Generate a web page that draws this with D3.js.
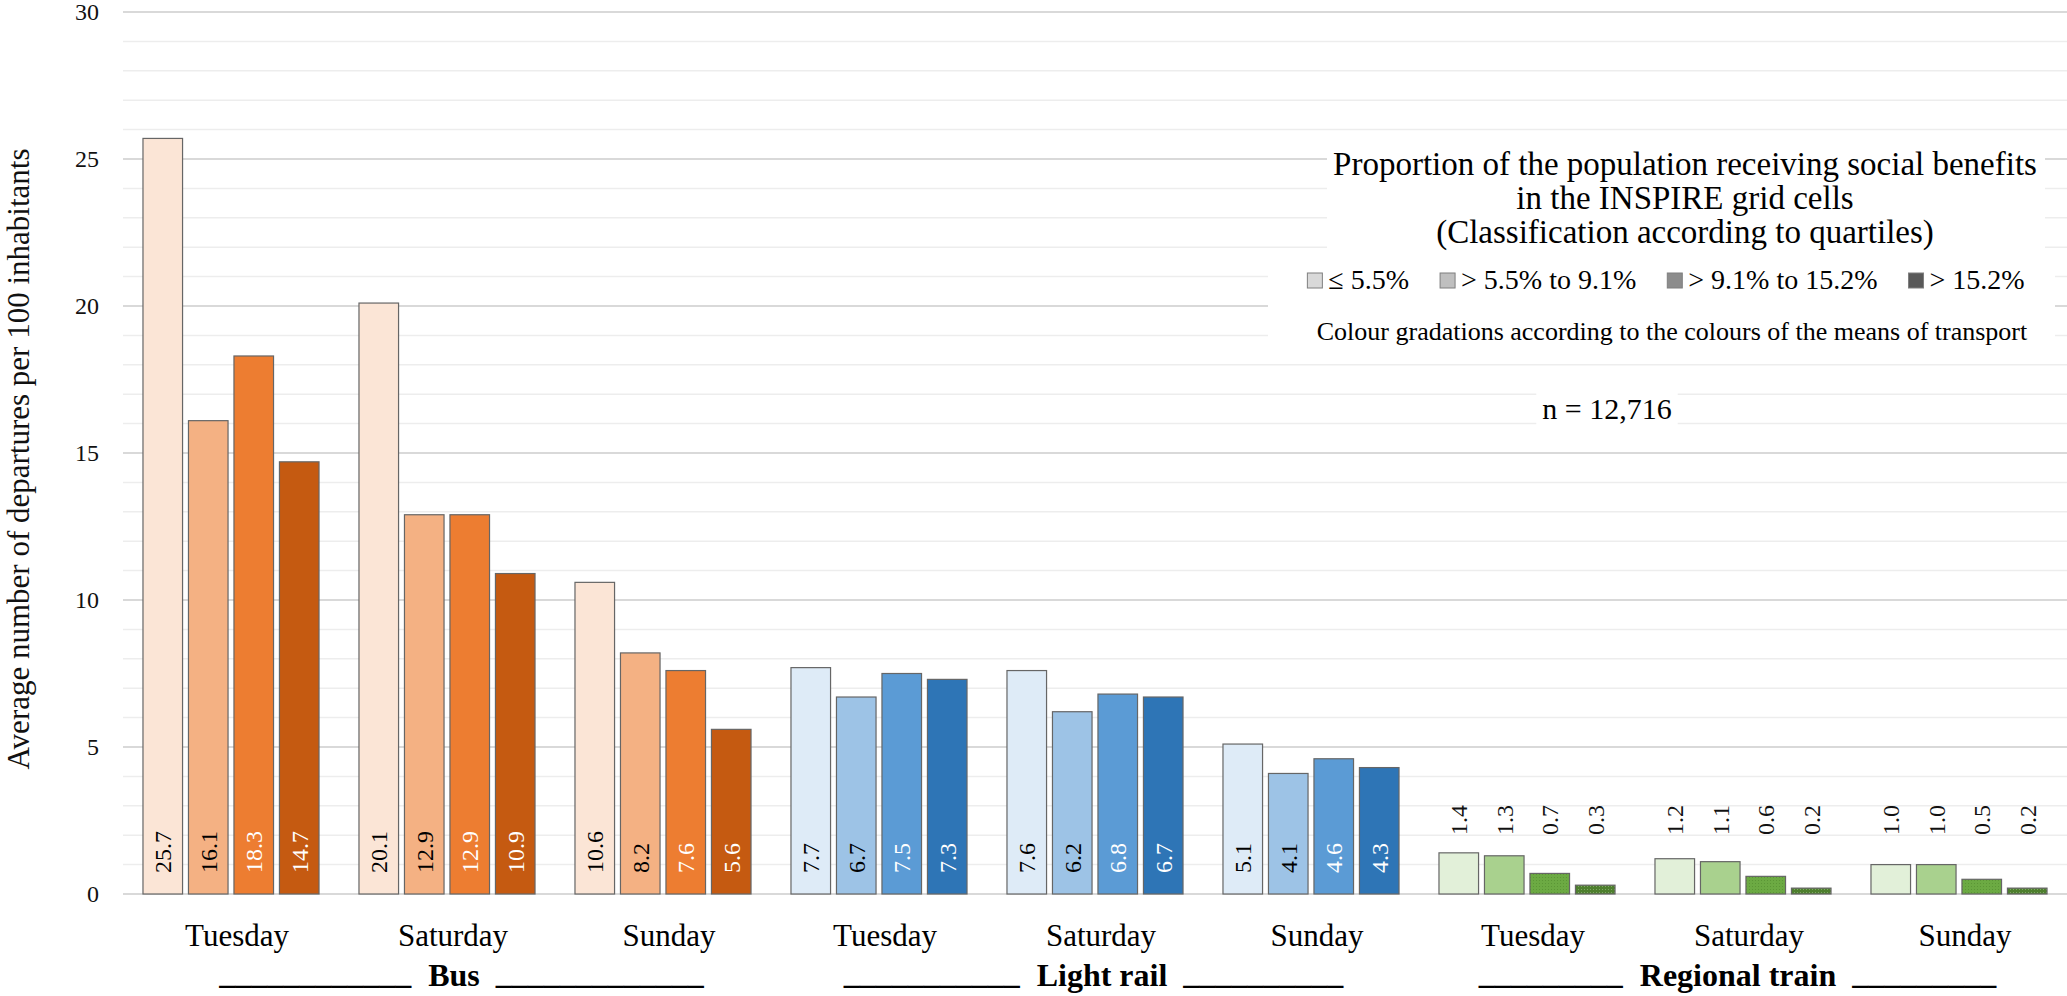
<!DOCTYPE html>
<html>
<head>
<meta charset="utf-8">
<script src="https://cdn.jsdelivr.net/npm/d3@7"></script>
<style>
  body { margin: 0; background: #fff; }
  svg { display: block; font-family: "Liberation Serif", "Times New Roman", serif; }
</style>
</head>
<body>
<div id="wrapper"></div>
<script>
const modes = ["Bus", "Light rail", "Regional train"];
const days = ["Tuesday", "Saturday", "Sunday"];
const classes = ["\u2264 5.5%", "> 5.5% to 9.1%", "> 9.1% to 15.2%", "> 15.2%"];

// rows = days, columns = the four quartile classes
const busValues = [[25.7, 16.1, 18.3, 14.7], [20.1, 12.9, 12.9, 10.9], [10.6, 8.2, 7.6, 5.6]];
const lightRailValues = [[7.7, 6.7, 7.5, 7.3], [7.6, 6.2, 6.8, 6.7], [5.1, 4.1, 4.6, 4.3]];
const regionalValues = [[1.4, 1.3, 0.7, 0.3], [1.2, 1.1, 0.6, 0.2], [1.0, 1.0, 0.5, 0.2]];

const legendTitle = [
    "Proportion of the population receiving social benefits",
    "in the INSPIRE grid cells",
    "(Classification according to quartiles)"
];
const legendNote = "Colour gradations according to the colours of the means of transport";
const sampleNote = "n = 12,716";
const yTitle = "Average number of departures per 100 inhabitants";
const underscoreCounts = [[12, 13], [11, 10], [9, 9]];

const modeValues = [busValues, lightRailValues, regionalValues];

const palettes = [
    ["#FBE5D6", "#F4B183", "#ED7D31", "#C55A11"],
    ["#DEEBF7", "#9DC3E6", "#5B9BD5", "#2E75B6"],
    ["#E2F0D9", "#A9D18E", "url(#green3)", "url(#green4)"]
];
const labelColors = ["#000", "#000", "#fff", "#fff"];
const legendGreys = ["#D9D9D9", "#BFBFBF", "#8C8C8C", "#595959"];

const width = 2067, height = 996;
const plot = { left: 123, right: 2067, top: 12, bottom: 894 };

const svg = d3.select("#wrapper").append("svg")
    .attr("width", width)
    .attr("height", height);

// dotted fills for the two darker green bars
const defs = svg.append("defs");
function dotPattern(id, base, dot) {
    const p = defs.append("pattern").attr("id", id)
        .attr("width", 3).attr("height", 3).attr("patternUnits", "userSpaceOnUse");
    p.append("rect").attr("width", 3).attr("height", 3).attr("fill", base);
    p.append("rect").attr("x", 1).attr("y", 1).attr("width", 1).attr("height", 1).attr("fill", dot);
}
dotPattern("green3", "#6CAA43", "#5B9636");
dotPattern("green4", "#4E7F2E", "#7FA865");

const rows = [];
modes.forEach((m, mi) => days.forEach((d, di) => {
    rows.push({ mode: m, mi: mi, day: d, key: m + "|" + d, values: modeValues[mi][di] });
}));

const x0 = d3.scaleBand()
    .domain(rows.map(r => r.key))
    .range([plot.left, plot.right])
    .paddingInner(0.185)
    .paddingOuter(0.0925);

const x1 = d3.scaleBand()
    .domain(d3.range(classes.length))
    .range([0, x0.bandwidth()])
    .paddingInner(0.13);

const y = d3.scaleLinear().domain([0, 30]).range([plot.bottom, plot.top]);

// gridlines
const grid = svg.append("g");
grid.selectAll("line.minor")
    .data(d3.range(1, 30).filter(v => v % 5 !== 0))
    .enter().append("line")
    .attr("class", "minor")
    .attr("x1", plot.left).attr("x2", plot.right)
    .attr("y1", d => y(d)).attr("y2", d => y(d))
    .attr("stroke", "#EDEDED").attr("stroke-width", 1.5);
grid.selectAll("line.major")
    .data(y.ticks(6))
    .enter().append("line")
    .attr("class", "major")
    .attr("x1", plot.left).attr("x2", plot.right)
    .attr("y1", d => y(d)).attr("y2", d => y(d))
    .attr("stroke", "#D9D9D9").attr("stroke-width", 2);

// y axis
const yAxis = svg.append("g")
    .attr("transform", `translate(${plot.left},0)`)
    .call(d3.axisLeft(y).ticks(6).tickSize(0).tickPadding(24));
yAxis.select(".domain").remove();
yAxis.selectAll("text")
    .style("font-family", "Liberation Serif, serif")
    .style("font-size", "24px")
    .attr("fill", "#111");

svg.append("text")
    .attr("transform", "translate(29,459) rotate(-90)")
    .attr("text-anchor", "middle")
    .style("font-size", "31px")
    .attr("fill", "#111")
    .text(yTitle);

// bars
const groups = svg.selectAll("g.group")
    .data(rows)
    .enter().append("g")
    .attr("class", "group")
    .attr("transform", d => `translate(${x0(d.key)},0)`);

groups.selectAll("rect")
    .data(d => d.values.map((v, i) => ({ v: v, i: i, mi: d.mi })))
    .enter().append("rect")
    .attr("x", d => x1(d.i))
    .attr("y", d => y(d.v))
    .attr("width", x1.bandwidth())
    .attr("height", d => y(0) - y(d.v))
    .attr("fill", d => palettes[d.mi][d.i])
    .attr("stroke", "#666")
    .attr("stroke-width", 1.2);

groups.selectAll("text")
    .data(d => d.values.map((v, i) => ({ v: v, i: i, mi: d.mi })))
    .enter().append("text")
    .attr("transform", d => {
        const cx = x1(d.i) + x1.bandwidth() / 2;
        const ly = d.v < 2 ? y(0) - 59 : y(0) - 21;
        return `translate(${cx},${ly}) rotate(-90)`;
    })
    .attr("dy", "0.35em")
    .style("font-size", "24px")
    .attr("fill", d => d.v < 2 ? "#111" : labelColors[d.i])
    .text(d => d3.format(".1f")(d.v));

// day labels
const xAxis = svg.append("g")
    .attr("transform", `translate(0,${y(0)})`)
    .call(d3.axisBottom(x0).tickSize(0).tickPadding(30).tickFormat(k => k.split("|")[1]));
xAxis.select(".domain").remove();
xAxis.selectAll("text")
    .attr("dx", 6)
    .style("font-family", "Liberation Serif, serif")
    .style("font-size", "31px")
    .attr("fill", "#000");

// mode labels with underscores
const modeShift = [7, 7, -5];
modes.forEach((m, mi) => {
    const keys = days.map(d => m + "|" + d);
    const cx = d3.mean(keys, k => x0(k) + x0.bandwidth() / 2) + modeShift[mi];
    const label = svg.append("text")
        .attr("x", cx).attr("y", 986)
        .attr("text-anchor", "middle")
        .style("font-size", "32px")
        .style("font-weight", "bold")
        .attr("fill", "#000")
        .text(m);
    const w = label.node().getComputedTextLength();
    svg.append("text")
        .attr("x", cx - w / 2 - 17).attr("y", 984)
        .attr("text-anchor", "end")
        .style("font-size", "32px")
        .style("font-weight", "bold")
        .text("_".repeat(underscoreCounts[mi][0]));
    svg.append("text")
        .attr("x", cx + w / 2 + 16).attr("y", 984)
        .attr("text-anchor", "start")
        .style("font-size", "32px")
        .style("font-weight", "bold")
        .text("_".repeat(underscoreCounts[mi][1]));
});

// legend (white text boxes over the grid)
const legendX = 1666;
svg.append("rect").attr("x", 1327).attr("y", 136).attr("width", 718).attr("height", 117).attr("fill", "#fff");
svg.append("rect").attr("x", 1268).attr("y", 253).attr("width", 787).attr("height", 97).attr("fill", "#fff");

svg.append("g").selectAll("text")
    .data(legendTitle)
    .enter().append("text")
    .attr("x", 1685)
    .attr("y", (d, i) => 175 + i * 34)
    .attr("text-anchor", "middle")
    .style("font-size", "33px")
    .attr("fill", "#000")
    .text(d => d);

const items = svg.append("g");
const itemTexts = classes.map(c => items.append("text")
    .attr("y", 289)
    .style("font-size", "28px")
    .attr("fill", "#000")
    .text(c));
const itemWidths = itemTexts.map(t => t.node().getComputedTextLength());
const sq = 15, sqGap = 6, itemGap = 31;
const rowWidth = d3.sum(itemWidths) + classes.length * (sq + sqGap) + (classes.length - 1) * itemGap;
let cursor = legendX - rowWidth / 2;
classes.forEach((c, i) => {
    items.append("rect")
        .attr("x", cursor).attr("y", 289 - sq - 1)
        .attr("width", sq).attr("height", sq)
        .attr("fill", legendGreys[i])
        .attr("stroke", "#7F7F7F").attr("stroke-width", 1);
    itemTexts[i].attr("x", cursor + sq + sqGap);
    cursor += sq + sqGap + itemWidths[i] + itemGap;
});

svg.append("text")
    .attr("x", 1672).attr("y", 340)
    .attr("text-anchor", "middle")
    .style("font-size", "26px")
    .attr("fill", "#000")
    .text(legendNote);

const nText = svg.append("text")
    .attr("x", 1607).attr("y", 419)
    .attr("text-anchor", "middle")
    .style("font-size", "30px")
    .attr("fill", "#000")
    .text(sampleNote);
const nb = nText.node().getBBox();
svg.insert("rect", () => nText.node())
    .attr("x", nb.x - 6).attr("y", nb.y - 2)
    .attr("width", nb.width + 12).attr("height", nb.height + 4)
    .attr("fill", "#fff");
</script>
</body>
</html>
